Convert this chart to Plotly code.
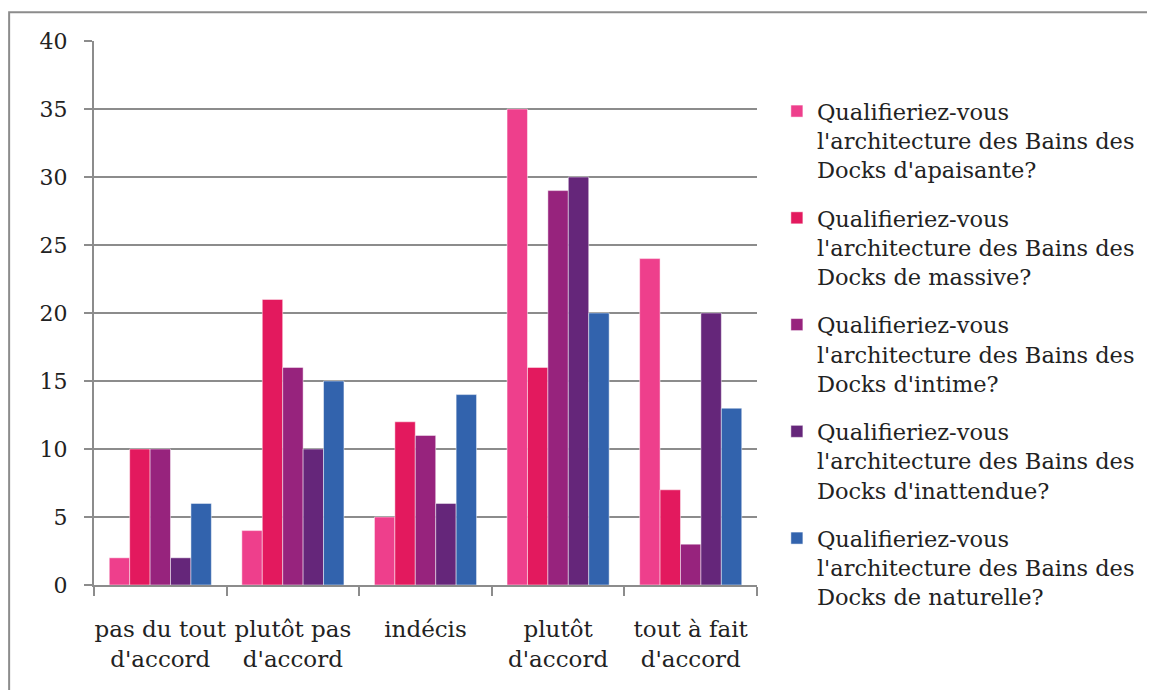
import plotly.graph_objects as go

categories = ["pas du tout<br>d'accord", "plutôt pas<br>d'accord", "indécis",
              "plutôt<br>d'accord", "tout à fait<br>d'accord"]

series_names = [
    "Qualifieriez-vous<br>l'architecture des Bains des<br>Docks d'apaisante?",
    "Qualifieriez-vous<br>l'architecture des Bains des<br>Docks de massive?",
    "Qualifieriez-vous<br>l'architecture des Bains des<br>Docks d'intime?",
    "Qualifieriez-vous<br>l'architecture des Bains des<br>Docks d'inattendue?",
    "Qualifieriez-vous<br>l'architecture des Bains des<br>Docks de naturelle?",
]

apaisante = [2, 4, 5, 35, 24]
massive = [10, 21, 12, 16, 7]
intime = [10, 16, 11, 29, 3]
inattendue = [2, 10, 6, 30, 20]
naturelle = [6, 15, 14, 20, 13]

colors = ["#EE3F8C", "#E3195E", "#97237D", "#65267A", "#3263AD"]

font = "Georgia, 'DejaVu Serif', serif"

fig = go.Figure()

for i, vals in enumerate([apaisante, massive, intime, inattendue, naturelle]):
    fig.add_trace(
        go.Bar(
            x=categories,
            y=vals,
            name=series_names[i],
            legendgroup=str(i),
            marker=dict(color=colors[i], line=dict(color="rgba(255,255,255,0.6)", width=0.8))
        )
    )

# grey frame round the whole chart (runs off the right and bottom edges)
fig.add_shape(type="rect", xref="paper", yref="paper",
              x0=-0.128, x1=1.7, y0=-0.3, y1=1.053,
              line=dict(color="#8c8c8c", width=2), fillcolor="rgba(0,0,0,0)",
              layer="below")

# page body has an 8px margin, so the figure is a bit smaller than the window
fig.update_layout(
    width=1147,
    height=682,
    barmode="group",
    bargap=0.23,
    bargroupgap=0,
    plot_bgcolor="white",
    paper_bgcolor="white",
    font=dict(family=font, size=22, color="#222222"),
    margin=dict(l=86, r=398, t=33, b=105, autoexpand=False),
    showlegend=True,
    legend=dict(
        x=1.03, y=0.91, xanchor="left", yanchor="top",
        traceorder="grouped", tracegroupgap=16,
        valign="top", font=dict(size=22.5),
        bgcolor="rgba(0,0,0,0)"
    ),
    xaxis=dict(
        showline=True, linecolor="#8c8c8c", linewidth=2,
        ticks="outside", tickson="boundaries", ticklen=9,
        tickcolor="#8c8c8c", tickwidth=2, tickangle=0,
        tickfont=dict(size=23), showgrid=False, automargin=False,
        ticklabelstandoff=22
    ),
    yaxis=dict(
        range=[0, 40], dtick=5,
        showline=True, linecolor="#8c8c8c", linewidth=2,
        ticks="outside", ticklen=8, tickcolor="#8c8c8c", tickwidth=2,
        showgrid=True, gridcolor="#8c8c8c", gridwidth=2,
        zeroline=False, tickfont=dict(size=22), automargin=False,
        ticklabelstandoff=12
    )
)

fig.write_html("out.html")
